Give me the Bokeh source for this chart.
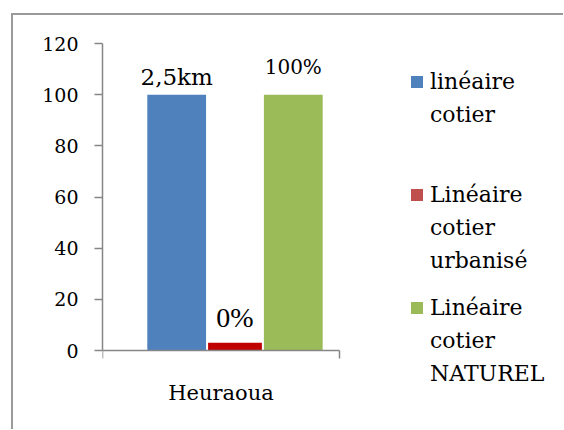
from bokeh.plotting import figure
from bokeh.models import Range1d, FixedTicker, Legend, LegendItem, ColumnDataSource, LinearAxis
from bokeh.embed import file_html
from bokeh.resources import INLINE

# ---- data ----
categories = ["Heuraoua"]
series_names = ["linéaire cotier", "Linéaire cotier urbanisé", "Linéaire cotier NATUREL"]
values = [100, 3, 100]
bar_labels = ["2,5km", "0%", "100%"]
y_ticks = [0, 20, 40, 60, 80, 100, 120]

# ---- styles ----
bar_colors = ["#4F81BD", "#C00000", "#9BBB59"]
legend_colors = ["#4F81BD", "#C0504D", "#9BBB59"]
bar_offsets = [-0.187, 0.059, 0.305]
bar_widths = [0.248, 0.227, 0.248]
label_fonts = ["DejaVu Serif", "Liberation Serif", "DejaVu Serif"]
label_sizes = ["23px", "28px", "20px"]
label_yoff = [-18, -25, -28]
SERIF = "DejaVu Serif"
AXIS = "#868686"

# layout (pixels)
UNIT_X = 237.0           # pixels for the category band
PX_PER_Y = 307.0 / 120   # pixels per y unit
FRAME_W = 461
FRAME_H = 386
x_end = FRAME_W / UNIT_X
y_start = 120 - FRAME_H / PX_PER_Y

p = figure(output_backend="svg", toolbar_location=None,
           x_range=Range1d(0, x_end), y_range=Range1d(y_start, 120),
           x_axis_type=None, y_axis_type=None,
           frame_width=FRAME_W, frame_height=FRAME_H,
           min_border_left=89, min_border_top=28, min_border_right=0, min_border_bottom=0)
p.outline_line_color = None
p.grid.visible = False
p.margin = (13, 0, 0, 11)
p.styles = {"border-left": "2px solid #9a9a9a", "border-top": "2px solid #9a9a9a"}

cat_x = 0.5  # center of the single category band [0, 1]
for i in range(len(series_names)):
    src = ColumnDataSource(dict(x=[cat_x + bar_offsets[i]], top=[values[i]]))
    p.vbar(x="x", top="top", bottom=0, width=bar_widths[i], source=src,
           fill_color=bar_colors[i], line_color=None)

lab_src = ColumnDataSource(dict(
    x=[cat_x + o for o in bar_offsets], y=values, text=bar_labels,
    font=label_fonts, size=label_sizes, yoff=label_yoff))
p.text(x="x", y="y", text="text", source=lab_src, text_font="font", text_font_size="size",
       y_offset="yoff", text_align="center", text_baseline="alphabetic", text_color="black")

yaxis = LinearAxis(ticker=FixedTicker(ticks=y_ticks), bounds=(0, 120))
yaxis.axis_line_color = AXIS
yaxis.axis_line_width = 1.5
yaxis.major_tick_line_color = AXIS
yaxis.major_tick_line_width = 1.5
yaxis.major_tick_out = 8
yaxis.major_tick_in = 0
yaxis.minor_tick_line_color = None
yaxis.major_label_text_font = SERIF
yaxis.major_label_text_font_size = "19px"
yaxis.major_label_text_color = "black"
yaxis.major_label_standoff = 16
p.add_layout(yaxis, "left")

xaxis = LinearAxis(ticker=FixedTicker(ticks=[0, 1]), bounds=(0, 1), fixed_location=0)
xaxis.major_label_overrides = {0: "", 1: ""}
xaxis.axis_line_color = AXIS
xaxis.axis_line_width = 1.5
xaxis.major_tick_line_color = AXIS
xaxis.major_tick_line_width = 1.5
xaxis.major_tick_out = 8
xaxis.major_tick_in = 0
xaxis.minor_tick_line_color = None
xaxis.axis_label = categories[0]
xaxis.axis_label_text_font = SERIF
xaxis.axis_label_text_font_size = "21px"
xaxis.axis_label_text_font_style = "normal"
xaxis.axis_label_text_color = "black"
xaxis.axis_label_standoff = 22
p.add_layout(xaxis, "below")

# legends: one per series, each word on its own line, square only on first line
LEG_X = 307
LINE_H = 33
leg_tops_px = [64.5, 177.5, 290.5]   # top of each entry, from the frame top
frame_bottom_px = FRAME_H
for i, name in enumerate(series_names):
    words = name.split(" ")
    items = []
    for j, word in enumerate(words):
        pr = p.vbar(x=[cat_x], top=[0], width=0.1, visible=False,
                    fill_color=legend_colors[i], line_color=None,
                    fill_alpha=1.0 if j == 0 else 0.0)
        items.append(LegendItem(label=word, renderers=[pr]))
    top_from_frame = leg_tops_px[i] - 43
    bottom_up = frame_bottom_px - (top_from_frame + LINE_H * len(words))
    lg = Legend(items=items, location=(LEG_X, bottom_up), orientation="vertical")
    lg.border_line_color = None
    lg.background_fill_alpha = 0
    lg.label_text_font = SERIF
    lg.label_text_font_size = "22px"
    lg.label_text_color = "black"
    lg.label_height = LINE_H
    lg.glyph_width = 15
    lg.glyph_height = 15
    lg.label_standoff = 6
    lg.padding = 0
    lg.margin = 0
    lg.spacing = 0
    p.add_layout(lg, "center")

open("out.html", "w").write(file_html(p, INLINE))
